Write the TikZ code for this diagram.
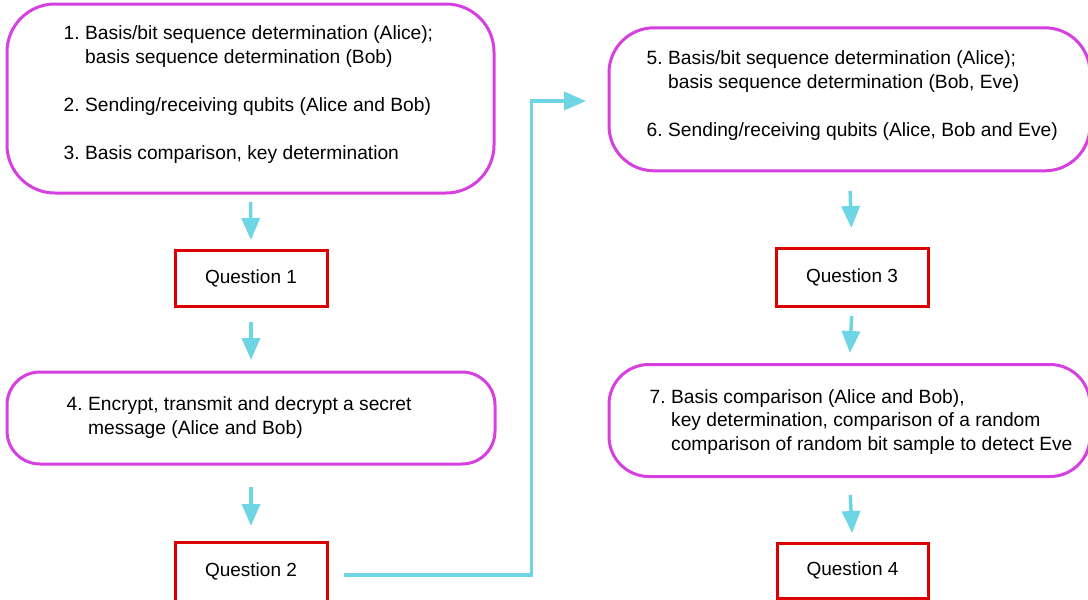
\documentclass[tikz,border=0pt]{standalone}
\usepackage{fontspec}
\setmainfont{Liberation Sans}
\usetikzlibrary{arrows.meta}
\definecolor{stagecol}{HTML}{D63FE0}
\definecolor{qred}{HTML}{DD0000}
\definecolor{flowcol}{HTML}{6DD5E3}
\newcommand{\itemno}[1]{\makebox[21.5pt][l]{#1}}
\begin{document}
\begin{tikzpicture}[x=1pt,y=-1pt,
  stage/.style={draw=stagecol, line width=3pt, fill=white, inner sep=0pt},
  qbox/.style={draw=qred, line width=3pt, inner sep=0pt, font=\fontsize{19}{23}\selectfont},
  txt/.style={anchor=base west, inner sep=0pt, font=\fontsize{19.2}{23}\selectfont},
  flow/.style={draw=flowcol, line width=3.5pt, -{Triangle[width=18pt,length=22pt]}}]
\useasboundingbox (0,0) rectangle (1088,600);
\fill[white] (0,0) rectangle (1088,600);

% stage boxes
\node[stage, rounded corners=48pt, minimum width=487pt, minimum height=189pt] (s1) at (250.5,98.5) {};
\node[stage, rounded corners=33pt, minimum width=488pt, minimum height=92pt] (s4) at (251,418) {};
\node[stage, rounded corners=45pt, minimum width=481pt, minimum height=143pt] (s5) at (849.5,99.3) {};
\node[stage, rounded corners=40pt, minimum width=481pt, minimum height=112pt] (s7) at (849.5,420.5) {};

% question boxes
\node[qbox, minimum width=152pt, minimum height=56pt] (q1) at (251,278) {Question 1};
\node[qbox, minimum width=152pt, minimum height=59pt] (q2) at (251,571.5) {Question 2};
\node[qbox, minimum width=152pt, minimum height=58pt] (q3) at (852,277) {Question 3};
\node[qbox, minimum width=151pt, minimum height=55pt] (q4) at (852.5,570.5) {Question 4};

% texts
\node[txt] (t1a) at (63.5,39.5) {\itemno{1.}Basis/bit sequence determination (Alice);};
\node[txt] (t1b) at (85,63) {basis sequence determination (Bob)};
\node[txt] (t2) at (63.5,111.5) {\itemno{2.}Sending/receiving qubits (Alice and Bob)};
\node[txt] (t3) at (63.5,159.3) {\itemno{3.}Basis comparison, key determination};

\node[txt] (t4a) at (66.5,410) {\itemno{4.}Encrypt, transmit and decrypt a secret};
\node[txt] (t4b) at (88,434) {message (Alice and Bob)};

\node[txt] (t5a) at (646.5,64) {\itemno{5.}Basis/bit sequence determination (Alice);};
\node[txt] (t5b) at (668,88.3) {basis sequence determination (Bob, Eve)};
\node[txt] (t6) at (646.5,136.7) {\itemno{6.}Sending/receiving qubits (Alice, Bob and Eve)};

\node[txt] (t7a) at (649.5,403.3) {\itemno{7.}Basis comparison (Alice and Bob),};
\node[txt] (t7b) at (671,426.7) {key determination, comparison of a random};
\node[txt] (t7c) at (671,450.7) {comparison of random bit sample to detect Eve};

% connectors
\draw[flow, shorten <=7.5pt, shorten >=8.5pt] (s1.south) -- (q1.north);
\draw[flow, shorten <=14pt, shorten >=10.5pt] (q1.south) -- (s4.north);
\draw[flow, shorten <=21.5pt, shorten >=14.5pt] (s4.south) -- (q2.north);
\draw[flow, shorten <=18.7pt, shorten >=18.5pt] (s5.south) -- (q3.north);
\draw[flow, shorten <=8.5pt, shorten >=10pt] (q3.south) -- (s7.north);
\draw[flow, shorten <=17pt, shorten >=8.5pt] (s7.south) -- (q4.north);

\coordinate (elbow) at (531.7,101);
\draw[flow, shorten <=15.5pt, shorten >=21.5pt] ([yshift=-3.5pt]q2.east) -| (elbow) -- ([yshift=-1.7pt]s5.west);
\end{tikzpicture}
\end{document}
